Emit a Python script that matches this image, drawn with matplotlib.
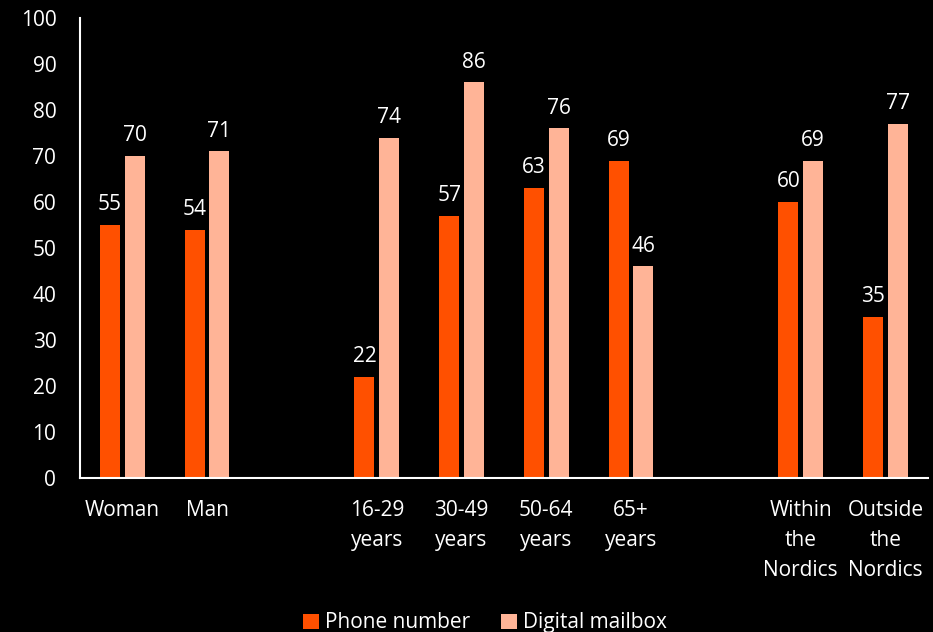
import matplotlib
matplotlib.use("Agg")
import matplotlib.pyplot as plt
import numpy as np

categories = ["Woman", "Man", "", "16-29\nyears", "30-49\nyears", "50-64\nyears", "65+\nyears", "",
              "Within\nthe\nNordics", "Outside\nthe\nNordics"]
phone = [55, 54, None, 22, 57, 63, 69, None, 60, 35]
mailbox = [70, 71, None, 74, 86, 76, 46, None, 69, 77]
series_names = ["Phone number", "Digital mailbox"]
yticks = [0, 10, 20, 30, 40, 50, 60, 70, 80, 90, 100]

c_phone = "#FF5000"
c_mail = "#FFB497"
FS = 15

plt.rcParams['font.family'] = ['Open Sans', 'DejaVu Sans']
fig = plt.figure(figsize=(9.33, 6.32), dpi=100, facecolor="black")
ax = fig.add_axes([0.0857, 0.2437, 0.9089, 0.7278], facecolor="black")

x = np.arange(len(categories))
w = 0.236
off = 0.145
for vals, color, sign, name in [(phone, c_phone, -1, series_names[0]), (mailbox, c_mail, 1, series_names[1])]:
    xs = [xi + sign * off for xi, v in zip(x, vals) if v is not None]
    vs = [v for v in vals if v is not None]
    ax.bar(xs, vs, width=w, color=color, label=name)
    for xi, v in zip(xs, vs):
        ax.annotate(str(v), (xi, v), xytext=(0, 7), textcoords="offset points",
                    ha="center", va="bottom", color="white", fontsize=FS)

ax.set_xlim(-0.5, len(categories) - 0.5)
ax.set_ylim(0, 100)
ax.set_yticks(yticks)
ax.set_xticks(x)
ax.set_xticklabels(categories, color="white", fontsize=FS, linespacing=1.55, va="top")
ax.tick_params(axis="both", length=0, colors="white", labelsize=FS)
ax.tick_params(axis="x", pad=16)
ax.tick_params(axis="y", pad=17)
for lab in ax.get_yticklabels():
    lab.set_color("white")
for s in ["top", "right"]:
    ax.spines[s].set_visible(False)
ax.spines["left"].set_color("white")
ax.spines["bottom"].set_color("white")
ax.spines["left"].set_linewidth(1.5)
ax.spines["bottom"].set_linewidth(1.5)

fig.legend(loc="lower center", bbox_to_anchor=(0.52, -0.032), ncol=2, frameon=False,
           fontsize=FS, labelcolor="white", handlelength=0.75, handleheight=0.75,
           handletextpad=0.3, columnspacing=1.5)

fig.savefig("out.png", dpi=100, facecolor="black")
